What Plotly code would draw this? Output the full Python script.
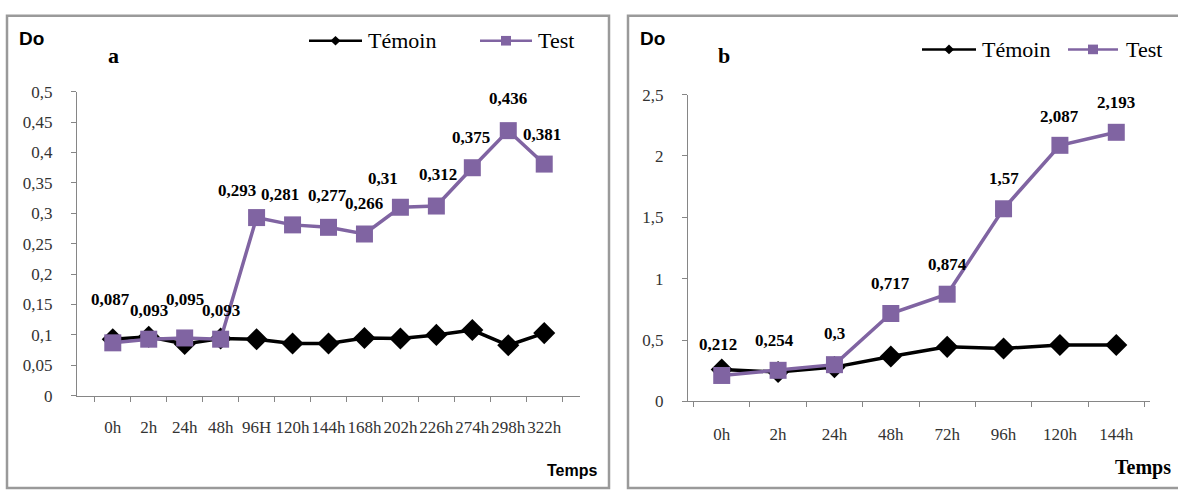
import plotly.graph_objects as go

# ---- data -------------------------------------------------------------
hours_a = ["0h", "2h", "24h", "48h", "96H", "120h", "144h", "168h",
           "202h", "226h", "274h", "298h", "322h"]
temoin_a = [0.093, 0.097, 0.085, 0.094, 0.093, 0.086, 0.086, 0.095,
            0.094, 0.100, 0.108, 0.083, 0.103]
test_a = [0.087, 0.093, 0.095, 0.093, 0.293, 0.281, 0.277, 0.266,
          0.31, 0.312, 0.375, 0.436, 0.381]

hours_b = ["0h", "2h", "24h", "48h", "72h", "96h", "120h", "144h"]
temoin_b = [0.26, 0.24, 0.28, 0.367, 0.445, 0.432, 0.46, 0.46]
test_b = [0.212, 0.254, 0.3, 0.717, 0.874, 1.57, 2.087, 2.193]

series_names = ["Témoin", "Test"]

# pixel offsets of the value labels relative to their point
label_dx_a = [-2, 0, 0, 0, -20, -13, -1, 0, -17, 2, -1, 0, -2]
label_dy_a = [43, 29, 38, 29, 27, 30, 32, 31, 29, 32, 30, 32, 30]
label_dx_b = [-4, -4, 0, 0, 0, 0, 0, 0]
label_dy_b = [31, 30, 31, 30, 30, 30, 29, 30]

# ---- styles -----------------------------------------------------------
PURPLE = "#8064A2"
BLACK = "#000000"
AXIS = "#868686"
TICKFONT = dict(family="Liberation Serif", size=17, color="#333333")
LABELFONT = dict(family="Liberation Serif", size=17, color="#000000")
LEGENDFONT = dict(family="Liberation Serif", size=22, color="#000000")
W, H = 1178, 500


def fmt(v):
    return f"{v:g}".replace(".", ",")


def px_x(px):
    return px / W


def px_y(py):
    return 1 - py / H


fig = go.Figure()

panels = [
    dict(x="x", y="y", cats=hours_a, tem=temoin_a, tst=test_a,
         dx=label_dx_a, dy=label_dy_a),
    dict(x="x2", y="y2", cats=hours_b, tem=temoin_b, tst=test_b,
         dx=label_dx_b, dy=label_dy_b),
]

annotations = []
shapes = []
for p in panels:
    fig.add_trace(go.Scatter(
        x=p["cats"], y=p["tem"], xaxis=p["x"], yaxis=p["y"],
        mode="lines+markers", name=series_names[0], showlegend=False,
        line=dict(color=BLACK, width=3.5),
        marker=dict(symbol="diamond", size=17, color=BLACK),
        cliponaxis=False))
    fig.add_trace(go.Scatter(
        x=p["cats"], y=p["tst"], xaxis=p["x"], yaxis=p["y"],
        mode="lines+markers", name=series_names[1], showlegend=False,
        line=dict(color=PURPLE, width=3.5),
        marker=dict(symbol="square", size=17, color=PURPLE),
        cliponaxis=False))
    for c, v, dx, dy in zip(p["cats"], p["tst"], p["dx"], p["dy"]):
        annotations.append(dict(
            x=c, y=v, xref=p["x"], yref=p["y"], text=f"<b>{fmt(v)}</b>",
            showarrow=False, xanchor="center", yanchor="middle",
            xshift=dx, yshift=dy, font=LABELFONT))


# ---- legends (one per panel, drawn in figure pixels) -------------------
def legend_key(x0, x1, y, color, symbol):
    shapes.append(dict(type="line", xref="paper", yref="paper",
                       x0=px_x(x0), x1=px_x(x1), y0=px_y(y), y1=px_y(y),
                       line=dict(color=color, width=2.5)))
    cx, r = (x0 + x1) / 2, 5
    if symbol == "diamond":
        path = (f"M{px_x(cx - r)},{px_y(y)} L{px_x(cx)},{px_y(y - r)} "
                f"L{px_x(cx + r)},{px_y(y)} L{px_x(cx)},{px_y(y + r)} Z")
        shapes.append(dict(type="path", xref="paper", yref="paper", path=path,
                           fillcolor=color, line=dict(color=color, width=0)))
    else:
        shapes.append(dict(type="rect", xref="paper", yref="paper",
                           x0=px_x(cx - r), x1=px_x(cx + r),
                           y0=px_y(y + r), y1=px_y(y - r),
                           fillcolor=color, line=dict(color=color, width=0)))


def legend_text(x, y, txt):
    annotations.append(dict(x=px_x(x), y=px_y(y), xref="paper", yref="paper",
                            text=txt, showarrow=False, xanchor="left",
                            yanchor="middle", font=LEGENDFONT))


for (l0, l1, t0), (k0, k1, u0), ly in [
    ((309, 362, 366), (480, 532, 536), 33),
    ((922, 976, 980), (1068, 1118, 1124), 42),
]:
    legend_key(l0, l1, ly, BLACK, "diamond")
    legend_text(t0, ly, series_names[0])
    legend_key(k0, k1, ly, PURPLE, "square")
    legend_text(u0, ly, series_names[1])

# panel titles and axis names
for txt, x, y, font in [
    ("<b>Do</b>", 31, 31, dict(family="Liberation Sans", size=19, color="#000")),
    ("<b>a</b>", 113, 48, dict(family="Liberation Serif", size=22, color="#000")),
    ("<b>Temps</b>", 572, 480, dict(family="Liberation Sans", size=16, color="#000")),
    ("<b>Do</b>", 652, 31, dict(family="Liberation Sans", size=19, color="#000")),
    ("<b>b</b>", 724, 48, dict(family="Liberation Serif", size=22, color="#000")),
    ("<b>Temps</b>", 1143, 477, dict(family="Liberation Serif", size=20, color="#000")),
]:
    annotations.append(dict(x=px_x(x), y=px_y(y), xref="paper", yref="paper",
                            text=txt, showarrow=False, xanchor="center",
                            yanchor="middle", font=font))

# panel frames
shapes += [
    dict(type="rect", xref="paper", yref="paper",
         x0=px_x(7), x1=px_x(609), y0=px_y(498), y1=px_y(7),
         line=dict(color="#9a9a9a", width=2.5)),
    dict(type="rect", xref="paper", yref="paper",
         x0=px_x(628), x1=px_x(1180), y0=px_y(498), y1=px_y(7),
         line=dict(color="#9a9a9a", width=2.5)),
]

axis_common = dict(showline=True, linecolor=AXIS, linewidth=1, ticks="outside",
                   ticklen=5, tickcolor=AXIS, showgrid=False, zeroline=False,
                   tickfont=TICKFONT, fixedrange=True)

fig.update_layout(
    width=W, height=H,
    margin=dict(l=0, r=0, t=0, b=0),
    paper_bgcolor="white", plot_bgcolor="white",
    separators=", ",
    showlegend=False,
    xaxis=dict(domain=[px_x(77), px_x(580)], anchor="y", type="category",
               tickson="boundaries", tickangle=0, ticklabelstandoff=16,
               **axis_common),
    yaxis=dict(domain=[px_y(402), px_y(86)], anchor="x", range=[0, 0.5],
               dtick=0.05, tick0=0, ticklabelstandoff=15, **axis_common),
    xaxis2=dict(domain=[px_x(688), px_x(1150)], anchor="y2", type="category",
                tickson="boundaries", tickangle=0, ticklabelstandoff=17,
                **axis_common),
    yaxis2=dict(domain=[px_y(408), px_y(89)], anchor="x2", range=[0, 2.5],
                dtick=0.5, tick0=0, ticklabelstandoff=15, **axis_common),
    annotations=annotations,
    shapes=shapes,
)

fig.write_html("out.html")
